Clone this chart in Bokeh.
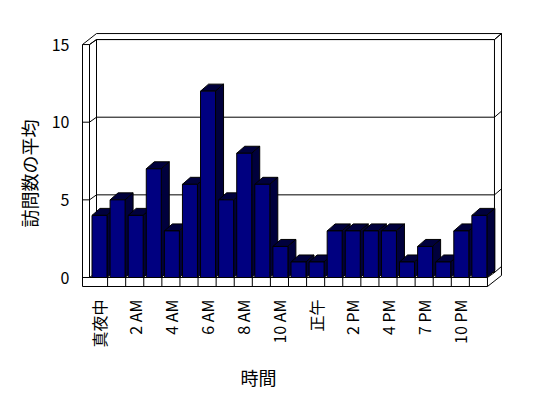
import math
from bokeh.plotting import figure
from bokeh.models import Range1d
from bokeh.core.properties import value
from bokeh.embed import file_html
from bokeh.resources import INLINE

# ---- data ----
hours = ["真夜中", "1 AM", "2 AM", "3 AM", "4 AM", "5 AM", "6 AM", "7 AM",
         "8 AM", "9 AM", "10 AM", "11 AM", "正午", "1 PM", "2 PM", "3 PM",
         "4 PM", "5 PM", "7 PM", "8 PM", "10 PM", "11 PM"]
visits = [4, 5, 4, 7, 3, 6, 12, 5, 8, 6, 2, 1, 1, 3, 3, 3, 3, 1, 2, 1, 3, 4]
y_ticks = [0, 5, 10, 15]
y_tick_labels = ["0", "5", "10", "15"]
x_label_idx = [0, 2, 4, 6, 8, 10, 12, 14, 16, 18, 20]
y_title = "訪問数の平均"
x_title = "時間"

# ---- layout (pixels) ----
CAT_PX = 18.09      # px per category
UNIT_PX = 15.53     # px per value unit
ORIGIN_X = 89       # canvas x of the first category's left edge
ORIGIN_Y = 277      # canvas y of the zero line (front plane)
WALL = 7            # left wall front thickness
FLOOR = 9           # floor front thickness
D1 = (7, 5)         # back-wall inner face offset (right, up)
D2 = (14, 11)       # outer box offset (right, up)
DB = (8, 7)         # bar depth offset (right, up)
BAR_GAP = 2.5
BAR_W = 15
YLAB_GAP = 13       # left wall -> y tick label right edge
XLAB_GAP = 13       # floor bottom -> x tick label top
Y_TITLE = (28, 173)  # canvas position of y title centre
X_TITLE = (258, 376)  # canvas position of x title centre
FONT = "Noto Sans CJK JP"

n = len(hours)
ymax = y_ticks[-1]

def dx(px):
    return px / CAT_PX

def dy(px):
    return px / UNIT_PX

W, H = 540, 390
xl, xr = -0.5, n - 0.5
x_start = xl - dx(ORIGIN_X)
x_end = x_start + dx(W)
y_end = dy(ORIGIN_Y)
y_start = y_end - dy(H)

def cx(px):
    return x_start + dx(px)

def cy(py):
    return y_end - dy(py)

p = figure(width=W, height=H, x_range=Range1d(x_start, x_end),
           y_range=Range1d(y_start, y_end), output_backend="svg",
           toolbar_location=None, min_border=0)
p.axis.visible = False
p.grid.visible = False
p.outline_line_color = None
p.background_fill_color = "white"
p.border_fill_color = "white"

# ---- 3D box ----
lw = xl - dx(WALL)
fb = -dy(FLOOR)
p.patch([lw, lw, lw + dx(D2[0]), xr + dx(D2[0]), xr + dx(D2[0]), xr],
        [fb, ymax, ymax + dy(D2[1]), ymax + dy(D2[1]), fb + dy(D2[1]), fb],
        fill_color="white", line_color="black", line_width=1)

bx0, bx1 = xl + dx(D1[0]), xr + dx(D1[0])
by0, by1 = dy(D1[1]), ymax + dy(D1[1])
xs, ys = [], []
xs.append([xl, xl]); ys.append([0, ymax])
xs.append([xl, xr]); ys.append([0, 0])
xs.append([xr, xr]); ys.append([0, fb])
xs.append([xl, bx0]); ys.append([ymax, by1])
xs.append([bx0, bx1, bx1, bx0, bx0]); ys.append([by0, by0, by1, by1, by0])
xs.append([bx1, xr + dx(D2[0])]); ys.append([by1, ymax + dy(D2[1])])
xs.append([xr, bx1]); ys.append([0, by0])
for v in y_ticks:
    xs.append([lw, xl, bx0, bx1, xr + dx(D2[0])])
    ys.append([v, v, v + dy(D1[1]), v + dy(D1[1]), v + dy(D2[1])])
for k in range(1, n):
    xs.append([xl + k, xl + k]); ys.append([0, fb])
p.multi_line(xs, ys, line_color="black", line_width=1)

# ---- bars ----
lefts = [i - 0.5 + dx(BAR_GAP) for i in range(n)]
rights = [l + dx(BAR_W) for l in lefts]
pxs, pys = [], []
for l, r, v in zip(lefts, rights, visits):
    pxs.append([l, r, r + dx(DB[0]), l + dx(DB[0])])
    pys.append([v, v, v + dy(DB[1]), v + dy(DB[1])])
    pxs.append([r, r, r + dx(DB[0]), r + dx(DB[0])])
    pys.append([0, v, v + dy(DB[1]), dy(DB[1])])
p.patches(pxs, pys, fill_color="#00003c", line_color="black", line_width=1)
p.quad(left=lefts, right=rights, bottom=[0] * n, top=visits,
       fill_color="#000080", line_color="black", line_width=1)

# ---- texts ----
txt = dict(text_font=value(FONT), text_color="black")
p.text(x=[lw - dx(YLAB_GAP)] * len(y_ticks), y=y_ticks, text=y_tick_labels,
       text_align="right", text_baseline="middle",
       text_font_size=value("16px"), **txt)
p.text(x=x_label_idx, y=[fb - dy(XLAB_GAP)] * len(x_label_idx),
       text=[hours[i] for i in x_label_idx], angle=math.pi / 2,
       text_align="right", text_baseline="middle",
       text_font_size=value("16px"), **txt)
p.text(x=[cx(Y_TITLE[0])], y=[cy(Y_TITLE[1])], text=[y_title], angle=math.pi / 2,
       text_align="center", text_baseline="middle",
       text_font_size=value("18px"), **txt)
p.text(x=[cx(X_TITLE[0])], y=[cy(X_TITLE[1])], text=[x_title],
       text_align="center", text_baseline="middle",
       text_font_size=value("18px"), **txt)

open("out.html", "w").write(file_html(p, INLINE))
